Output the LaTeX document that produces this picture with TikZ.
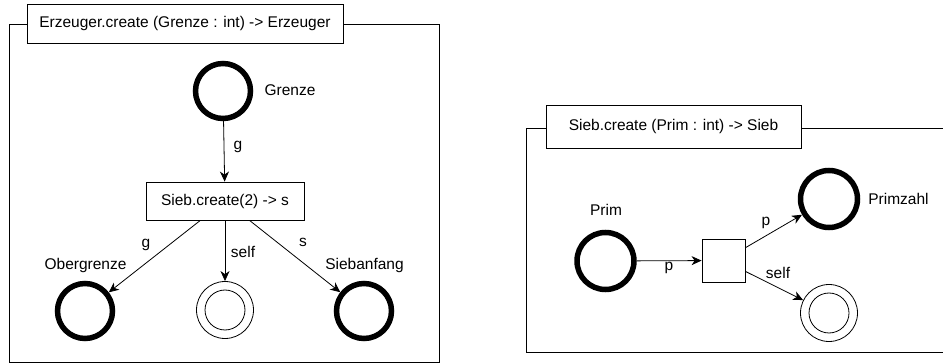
\documentclass[tikz,border=0pt]{standalone}
\usepackage{fontspec}
\setmainfont{Liberation Sans}
\usetikzlibrary{arrows.meta}
\pgfdeclarelayer{background}
\pgfdeclarelayer{foreground}
\pgfsetlayers{background,main,foreground}
\tikzset{
  place/.style={circle, draw, line width=5.5pt, minimum size=55pt, inner sep=0pt},
  selfplace/.style={circle, draw, line width=0.8pt, minimum size=57pt, inner sep=0pt},
  trans/.style={rectangle, draw, line width=0.8pt, fill=white, inner sep=0pt},
  title/.style={rectangle, draw, line width=0.8pt, fill=white, inner sep=0pt},
  lbl/.style={inner sep=0pt},
  arc/.style={line width=0.8pt, -{Stealth[length=10pt, width=9pt, inset=3pt]}}
}

\begin{document}
\begin{tikzpicture}[x=1pt, y=-1pt, font=\fontsize{15.5}{18}\selectfont]
\useasboundingbox (0,0) rectangle (943,363);

\begin{pgfonlayer}{background}
\draw [line width=0.8pt] (9,24) rectangle (439,362);
\draw [line width=0.8pt] (943,128) -- (526,128) -- (526,352) -- (943,352);
\end{pgfonlayer}

% Erzeuger
\node [title, minimum width=316pt, minimum height=39pt] (titleE) at (185,23.5) {Erzeuger.create (Grenze : int) -> Erzeuger};
\node [place] (grenze) at (223,91) {};
\node [lbl] (grenzeL) at (290,90) {Grenze};
\node [trans, minimum width=158pt, minimum height=38pt] (sieb) at (225,201) {Sieb.create(2) -> s};
\node [place] (ober) at (85,311) {};
\node [lbl] (oberL) at (85.5,265) {Obergrenze};
\node [selfplace] (selfE) at (225,310) {};
\draw [line width=0.8pt] (selfE) circle (20pt);
\node [place] (anfang) at (364,311) {};
\node [lbl] (anfangL) at (364.5,265) {Siebanfang};

\draw [arc] (grenze) -- (sieb);
\draw [arc] (sieb) -- (ober);
\draw [arc] (sieb) -- (selfE);
\draw [arc] (sieb) -- (anfang);
\node [lbl] at (238,147) {g};
\node [lbl] at (146,245) {g};
\node [lbl] at (243,252) {self};
\node [lbl] at (303,242) {s};

% Sieb
\node [title, minimum width=255pt, minimum height=43pt] (titleS) at (673.5,126.5) {Sieb.create (Prim : int) -> Sieb};
\node [place, minimum size=57pt] (prim) at (605.5,261) {};
\node [lbl] (primL) at (606,210) {Prim};
\node [trans, minimum size=43pt] (box) at (723.5,260.5) {};
\node [place, minimum size=57pt] (primzahl) at (829,199) {};
\node [lbl] (primzahlL) at (898.5,199) {Primzahl};
\node [selfplace] (selfS) at (829,313) {};
\draw [line width=0.8pt] (selfS) circle (20pt);

\draw [arc] (prim) -- (box);
\draw [arc] (box) -- (primzahl);
\draw [arc] (box) -- (selfS);
\node [lbl] at (669,268) {p};
\node [lbl] at (766,223) {p};
\node [lbl] at (778,273) {self};
\end{tikzpicture}
\end{document}
